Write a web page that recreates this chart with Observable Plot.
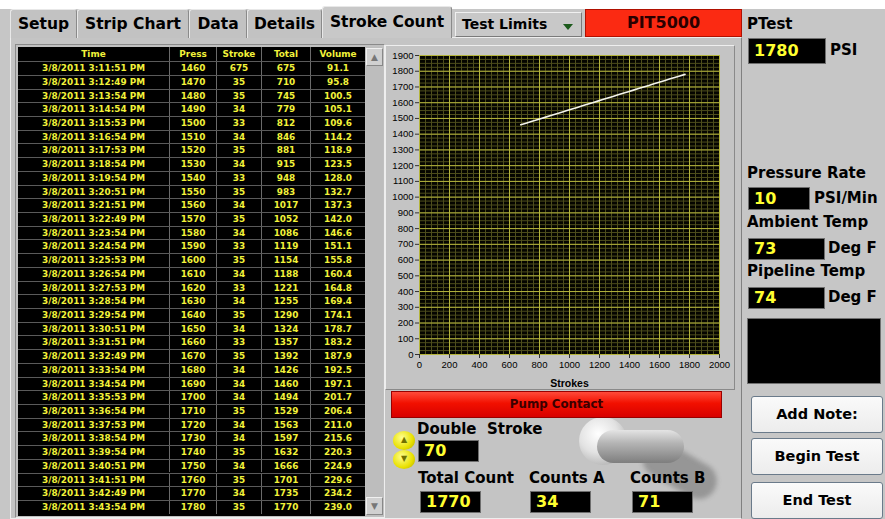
<!DOCTYPE html>
<html>
<head>
<meta charset="utf-8">
<script src="https://cdn.jsdelivr.net/npm/d3@7"></script>
<script src="https://cdn.jsdelivr.net/npm/@observablehq/plot@0.6"></script>
<style>
  html, body { margin: 0; padding: 0; }
  body { width: 885px; height: 519px; position: relative; overflow: hidden; background: #c6c6c6; font-family: "DejaVu Sans", sans-serif; }
  .abs { position: absolute; box-sizing: border-box; }
  .tab { position: absolute; box-sizing: border-box; top: 9px; height: 29px; background: #c2c2c2; border: 1px solid #e8e8e8; border-right-color: #8a8a8a; border-bottom: none; font: bold 15.5px "DejaVu Sans"; color: #000; text-align: center; line-height: 28px; border-radius: 3px 3px 0 0; }
  .lbl { position: absolute; font: bold 15px "DejaVu Sans"; color: #000; white-space: nowrap; }
  .box { position: absolute; box-sizing: border-box; background: #000; border: 1px solid #6e6e6e; color: #ffff30; font: bold 16px "DejaVu Sans"; padding-left: 5px; white-space: nowrap; }
  .btn { position: absolute; box-sizing: border-box; left: 751px; width: 132px; height: 37px; background: linear-gradient(#fafafa, #ececec); border: 1px solid #6a7a8a; border-radius: 3px; font: bold 14.5px "DejaVu Sans"; text-align: center; line-height: 35px; color: #000; }
  .cell { position: absolute; box-sizing: border-box; text-align: center; color: #f2f23a; font: bold 8.9px "DejaVu Sans"; white-space: nowrap; }
</style>
</head>
<body>
<div class="abs" style="left:0;top:0;width:885px;height:9px;background:#fff;"></div>
<!-- main panel -->
<div class="abs" style="left:10px;top:37px;width:732px;height:482px;background:#c4c4c4;border:1px solid #eeeeee;border-right-color:#808080;"></div>
<div id="tabs"></div>
<!-- dropdown -->
<div class="abs" style="left:455px;top:12px;width:127px;height:25px;background:#c8c8c8;border:1px solid #f0f0f0;border-right-color:#7a7a7a;border-bottom-color:#7a7a7a;font:bold 14px 'DejaVu Sans';line-height:23px;padding-left:6px;">Test Limits</div>
<div class="abs" style="left:563px;top:24px;width:0;height:0;border-left:5px solid transparent;border-right:5px solid transparent;border-top:6px solid #1c5a1c;"></div>
<div class="abs" style="left:585px;top:9px;width:157px;height:28px;background:#fb2a12;border:1px solid #b01000;font:bold 16px 'DejaVu Sans';color:#2a0000;text-align:center;line-height:26px;">PIT5000</div>
<!-- right column -->
<div class="lbl" style="left:747px;top:15px;">PTest</div>
<div class="box" style="left:748px;top:38px;width:78px;height:26px;line-height:24px;">1780</div>
<div class="lbl" style="left:830px;top:41px;">PSI</div>
<div class="lbl" style="left:747px;top:164px;">Pressure Rate</div>
<div class="box" style="left:748px;top:187px;width:62px;height:23px;line-height:21px;">10</div>
<div class="lbl" style="left:814px;top:189px;">PSI/Min</div>
<div class="lbl" style="left:747px;top:213px;">Ambient Temp</div>
<div class="box" style="left:748px;top:238px;width:77px;height:22px;line-height:20px;">73</div>
<div class="lbl" style="left:828px;top:239px;">Deg F</div>
<div class="lbl" style="left:747px;top:262px;">Pipeline Temp</div>
<div class="box" style="left:748px;top:287px;width:77px;height:22px;line-height:20px;">74</div>
<div class="lbl" style="left:828px;top:288px;">Deg F</div>
<div class="abs" style="left:747px;top:318px;width:134px;height:66px;background:#000;border:1px solid #707070;"></div>
<div class="btn" style="top:396px;">Add Note:</div>
<div class="btn" style="top:438px;">Begin Test</div>
<div class="btn" style="top:482px;">End Test</div>
<!-- table -->
<div class="abs" style="left:15px;top:44px;width:370px;height:474px;background:#c0c0c0;border:1px solid #8a8a8a;border-right-color:#eee;border-bottom-color:#eee;"></div>
<div id="table" class="abs" style="left:18px;top:47px;width:347px;height:469px;background:#000;"></div>
<div class="abs" style="left:366px;top:47px;width:17px;height:469px;background:#bdbdbd;"></div>
<div class="abs" style="left:366px;top:48px;width:17px;height:18px;background:#d0d0d0;border:1px solid #f0f0f0;border-right-color:#888;border-bottom-color:#888;color:#777;font:9px 'DejaVu Sans';text-align:center;line-height:16px;">▲</div>
<div class="abs" style="left:366px;top:497px;width:17px;height:18px;background:#d0d0d0;border:1px solid #f0f0f0;border-right-color:#888;border-bottom-color:#888;color:#777;font:9px 'DejaVu Sans';text-align:center;line-height:16px;">▼</div>
<!-- chart panel -->
<div class="abs" style="left:385px;top:45px;width:350px;height:345px;background:#c4c4c4;border:1px solid #eee;border-right-color:#8a8a8a;border-bottom-color:#8a8a8a;"></div>
<div id="chart" class="abs" style="left:385px;top:45px;"></div>
<!-- toggle switch (drawn first so labels sit over its shadow) -->
<div class="abs" style="left:645px;top:432px;width:80px;height:36px;border-radius:18px;background:#8e8e8e;transform:rotate(30deg);transform-origin:left center;filter:blur(2.5px);opacity:0.85;"></div>
<div class="abs" style="left:579px;top:417px;width:48px;height:48px;border-radius:50%;background:radial-gradient(circle at 40% 35%, #ffffff, #e2e2e2 45%, #9a9a9a);"></div>
<div class="abs" style="left:597px;top:430px;width:87px;height:33px;border-radius:17px;background:linear-gradient(#e4e4e4, #b4b4b4 40%, #7e7e7e);"></div>
<!-- bottom controls -->
<div class="abs" style="left:391px;top:391px;width:331px;height:27px;background:linear-gradient(#ff4a3a 0%, #f21000 45%, #d80000 100%);border:1px solid #900;font:bold 11.8px 'DejaVu Sans';color:#3a0000;text-align:center;line-height:25px;">Pump Contact</div>
<div class="lbl" style="left:417px;top:420px;">Double&nbsp; Stroke</div>
<div class="abs" style="left:393px;top:431px;width:22px;height:19px;border-radius:50%;background:radial-gradient(circle at 40% 35%, #ffff90, #e8e000 60%, #b0a800);font:8px 'DejaVu Sans';color:#707000;text-align:center;line-height:17px;">▲</div>
<div class="abs" style="left:393px;top:450px;width:22px;height:19px;border-radius:50%;background:radial-gradient(circle at 40% 35%, #ffff90, #e8e000 60%, #b0a800);font:8px 'DejaVu Sans';color:#707000;text-align:center;line-height:17px;">▼</div>
<div class="box" style="left:418px;top:440px;width:61px;height:22px;line-height:20px;">70</div>
<div class="lbl" style="left:418px;top:469px;">Total Count</div>
<div class="box" style="left:420px;top:491px;width:61px;height:22px;line-height:20px;">1770</div>
<div class="lbl" style="left:529px;top:469px;">Counts A</div>
<div class="box" style="left:530px;top:491px;width:61px;height:22px;line-height:20px;">34</div>
<div class="lbl" style="left:630px;top:469px;">Counts B</div>
<div class="box" style="left:632px;top:491px;width:61px;height:22px;line-height:20px;">71</div>

<script>
// ---- data ----
const times = ["3/8/2011 3:11:51 PM","3/8/2011 3:12:49 PM","3/8/2011 3:13:54 PM","3/8/2011 3:14:54 PM","3/8/2011 3:15:53 PM","3/8/2011 3:16:54 PM","3/8/2011 3:17:53 PM","3/8/2011 3:18:54 PM","3/8/2011 3:19:54 PM","3/8/2011 3:20:51 PM","3/8/2011 3:21:51 PM","3/8/2011 3:22:49 PM","3/8/2011 3:23:54 PM","3/8/2011 3:24:54 PM","3/8/2011 3:25:53 PM","3/8/2011 3:26:54 PM","3/8/2011 3:27:53 PM","3/8/2011 3:28:54 PM","3/8/2011 3:29:54 PM","3/8/2011 3:30:51 PM","3/8/2011 3:31:51 PM","3/8/2011 3:32:49 PM","3/8/2011 3:33:54 PM","3/8/2011 3:34:54 PM","3/8/2011 3:35:53 PM","3/8/2011 3:36:54 PM","3/8/2011 3:37:53 PM","3/8/2011 3:38:54 PM","3/8/2011 3:39:54 PM","3/8/2011 3:40:51 PM","3/8/2011 3:41:51 PM","3/8/2011 3:42:49 PM","3/8/2011 3:43:54 PM"];
const press = [1460,1470,1480,1490,1500,1510,1520,1530,1540,1550,1560,1570,1580,1590,1600,1610,1620,1630,1640,1650,1660,1670,1680,1690,1700,1710,1720,1730,1740,1750,1760,1770,1780];
const stroke = [675,35,35,34,33,34,35,34,33,35,34,35,34,33,35,34,33,34,35,34,33,35,34,34,34,35,34,34,35,34,35,34,35];
const total = [675,710,745,779,812,846,881,915,948,983,1017,1052,1086,1119,1154,1188,1221,1255,1290,1324,1357,1392,1426,1460,1494,1529,1563,1597,1632,1666,1701,1735,1770];
const volume = ["91.1","95.8","100.5","105.1","109.6","114.2","118.9","123.5","128.0","132.7","137.3","142.0","146.6","151.1","155.8","160.4","164.8","169.4","174.1","178.7","183.2","187.9","192.5","197.1","201.7","206.4","211.0","215.6","220.3","224.9","229.6","234.2","239.0"];
const headers = ["Time","Press","Stroke","Total","Volume"];
const tabNames = ["Setup","Strip Chart","Data","Details","Stroke Count"];
const xTicks = [0,200,400,600,800,1000,1200,1400,1600,1800,2000];
const yTicks = [0,100,200,300,400,500,600,700,800,900,1000,1100,1200,1300,1400,1500,1600,1700,1800,1900];

// ---- tabs ----
const tabX = [10,77,189,247,322], tabW = [67,112,58,75,130];
const tabsEl = document.getElementById("tabs");
tabNames.forEach((t,i) => {
  const d = document.createElement("div");
  d.className = "tab";
  d.style.left = tabX[i] + "px"; d.style.width = tabW[i] + "px";
  if (i === 4) { d.style.top = "6px"; d.style.height = "32px"; d.style.lineHeight = "30px"; d.style.background = "#c8c8c8"; }
  d.textContent = t;
  tabsEl.appendChild(d);
});

// ---- table ----
const colX = [0,151,198,243,292], colW = [151,47,45,49,55];
const tbl = document.getElementById("table");
const rowH = 13.71, headH = 14.5;
function addCell(txt, c, top, h) {
  const d = document.createElement("div");
  d.className = "cell";
  d.style.left = colX[c] + "px"; d.style.width = colW[c] + "px";
  d.style.top = top + "px"; d.style.height = h + "px"; d.style.lineHeight = h + "px";
  if (c > 0) d.style.borderLeft = "1px solid #6a6a6a";
  d.textContent = txt;
  tbl.appendChild(d);
}
headers.forEach((h,c) => addCell(h, c, 0, headH));
times.forEach((t,i) => {
  const top = headH + 0.7 + i * rowH;
  const line = document.createElement("div");
  line.className = "abs";
  line.style.cssText = `left:0;width:347px;top:${top - 1}px;height:1px;background:#5a5a5a;`;
  tbl.appendChild(line);
  [t, press[i], stroke[i], total[i], volume[i]].forEach((v,c) => addCell(String(v), c, top, rowH - 1));
});

// ---- chart ----
const rows = total.map((t,i) => ({total: t, press: press[i]}));
const xMinor = d3.range(0, 2001, 40);
const yMinor = d3.range(0, 1901, 25);
const chart = Plot.plot({
  width: 350, height: 345,
  marginLeft: 34, marginTop: 10, marginRight: 16, marginBottom: 36,
  style: {background: "transparent", fontFamily: "Liberation Sans, Arial, sans-serif", fontSize: "9.5px", color: "#000"},
  x: {domain: [0, 2000]},
  y: {domain: [0, 1900]},
  marks: [
    Plot.frame({fill: "#050500"}),
    Plot.ruleX(xMinor, {x: d => d, stroke: "#4e4e1c", strokeWidth: 1}),
    Plot.ruleY(yMinor, {y: d => d, stroke: "#4e4e1c", strokeWidth: 1}),
    Plot.ruleX(xTicks, {x: d => d, stroke: "#b4b43c", strokeWidth: 1}),
    Plot.ruleY(yTicks, {y: d => d, stroke: "#b4b43c", strokeWidth: 1}),
    Plot.line(rows, {x: "total", y: "press", stroke: "#f4f4ec", strokeWidth: 1.6}),
    Plot.axisX(xTicks, {tickSize: 4, tickPadding: 3, tickFormat: d => String(d), label: "Strokes", labelAnchor: "center", labelArrow: "none", labelOffset: 32, stroke: "#333"}),
    Plot.axisY(yTicks, {tickSize: 4, tickPadding: 2, tickFormat: d => String(d), label: null, stroke: "#333"})
  ]
});
const lab = chart.querySelector('[aria-label="x-axis label"]');
if (lab) { lab.setAttribute("font-weight", "bold"); lab.setAttribute("font-size", "10.5"); }
document.getElementById("chart").appendChild(chart);
</script>
</body>
</html>
